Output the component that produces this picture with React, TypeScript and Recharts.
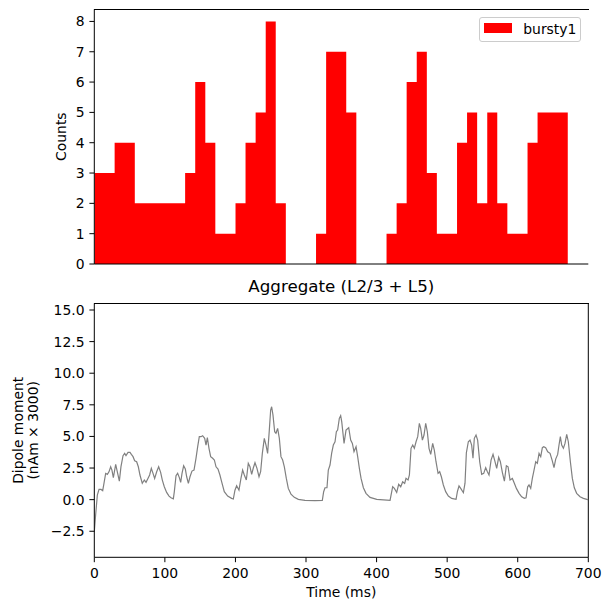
import {
  Area,
  CartesianGrid,
  ComposedChart,
  Legend,
  Line,
  LineChart,
  XAxis,
  YAxis,
} from 'recharts'

const FONT = '"DejaVu Sans", sans-serif'
const TICK_FONT = 13.9

// bursty1 spike histogram: bin edges (ms) and counts per bin
const binEdges = [
  0.3, 14.6, 28.8, 43.1, 57.4, 71.6, 85.9, 100.2, 114.5, 128.7, 143.0, 157.3,
  171.5, 185.8, 200.1, 214.3, 228.6, 242.9, 257.1, 271.4, 285.7, 299.9, 314.2,
  328.5, 342.8, 357.0, 371.3, 385.6, 399.8, 414.1, 428.4, 442.6, 456.9, 471.2,
  485.4, 499.7, 514.0, 528.2, 542.5, 556.8, 571.0, 585.3, 599.6, 613.9, 628.1,
  642.4, 656.7, 670.9,
]
const binCounts = [
  3, 3, 4, 4, 2, 2, 2, 2, 2, 3, 6, 4, 1, 1, 2, 4, 5, 8, 2, 0, 0, 0, 1, 7, 7, 5,
  0, 0, 0, 1, 2, 6, 7, 3, 1, 1, 4, 5, 2, 5, 2, 1, 1, 4, 5, 5, 5,
]

const timeTicks = [0, 100, 200, 300, 400, 500, 600, 700]
const countTicks = [0, 1, 2, 3, 4, 5, 6, 7, 8]
const dipoleTicks = [-2.5, 0, 2.5, 5, 7.5, 10, 12.5, 15]
const countDomain: [number, number] = [0, 8.4]
const dipoleDomain: [number, number] = [-4.56, 15.53]

// aggregate dipole trace (ms, nAm x 3000)
const dipoleTimes = [
  0, 1.9, 4.3, 6.7, 9.5, 11.9, 13.7, 16.1, 18.5, 20.8, 23.2, 25, 27, 30.3, 33.1,
  35.5, 37.8, 40.7, 43, 44.9, 47.8, 50.6, 52.5, 54.9, 57.2, 60, 62.4, 64.7, 68,
  70.9, 73.3, 76, 78.4, 80.8, 83.2, 85.5, 88.4, 91.2, 94, 96.4, 99.2, 102.5,
  105.9, 108.7, 112, 113.4, 115.8, 118.1, 120.5, 122.4, 124.3, 126.6, 129,
  130.9, 133.3, 135.6, 138.4, 141.3, 144.1, 146.5, 148.8, 151.2, 153.5, 156.4,
  158.3, 160.2, 162.5, 164.9, 167.7, 170.1, 172.5, 175.3, 178, 180.4, 184.2,
  189, 194.6, 197, 199.3, 201.7, 205, 207.8, 210.2, 212.6, 215.4, 218.2, 220.6,
  223, 225.3, 227.7, 230.5, 233.4, 235.7, 238.1, 240.9, 243.3, 245.6, 248,
  249.9, 251.3, 253.2, 255.6, 257.4, 259.8, 262.2, 264.5, 266.9, 269.3, 272.1,
  274.9, 278.7, 283.4, 289.1, 298.5, 312.7, 323.1, 325, 326.9, 329.7, 331.6,
  334, 336.3, 338.7, 341.1, 343, 344.8, 347.2, 349.1, 350.6, 353.9, 356.7,
  360.5, 363.3, 365.7, 368, 370.9, 373.2, 375.6, 378, 381.3, 385, 390.7, 400.2,
  419.1, 420.5, 422.8, 425.2, 428.5, 431.3, 434.2, 437, 439.8, 441.7, 444.6,
  446.5, 448.8, 451.2, 453.5, 455.9, 458.3, 460.6, 462.5, 464.9, 467.2, 469.6,
  471.9, 474.3, 476.7, 479.5, 481.8, 484.2, 487.1, 489.4, 491.8, 494.6, 497.9,
  501.7, 506.4, 512.6, 514.5, 516.8, 519.2, 523, 525.3, 527.2, 530, 532.4,
  534.7, 536.6, 538.5, 540.9, 543.2, 546.1, 548.9, 551.8, 554.6, 557, 559.3,
  562.2, 565, 567.8, 570.2, 573, 575.4, 578.2, 581.1, 583.9, 586.3, 589.1,
  592.4, 595.2, 598.1, 601.9, 605.6, 609.4, 611.8, 614.1, 616, 618.4, 620.7,
  623.1, 625.5, 627.8, 630.2, 632.6, 634.9, 636.8, 639.6, 642.5, 645.8, 649.1,
  651.4, 653.8, 656.6, 658.5, 660.4, 662.3, 664.7, 667, 669.4, 671.7, 674.6,
  677.4, 680.2, 683.5, 688.3, 693, 699.1, 700,
]
const dipoleValues = [
  -2.54, -1.2, 0.36, 0.81, 0.81, 0.71, 1.29, 2.08, 2.0, 2.2, 2.6, 2.34, 1.74,
  2.79, 2.08, 1.47, 2.61, 3.48, 3.66, 3.48, 3.74, 3.74, 3.58, 3.4, 3.08, 3.0,
  2.6, 1.95, 1.29, 1.55, 1.37, 1.68, 1.95, 2.47, 2.08, 1.68, 2.21, 2.6, 2.16,
  1.55, 1.02, 0.57, 0.28, 0.15, 0.07, 0.63, 1.89, 2.08, 1.74, 1.37, 2.08, 2.68,
  2.42, 1.81, 1.29, 1.81, 2.26, 2.34, 3.27, 4.19, 4.98, 4.98, 5.06, 4.85, 4.32,
  4.9, 4.06, 3.4, 3.27, 3.14, 2.6, 2.42, 1.95, 1.42, 0.63, 0.28, 0.1, 0.05,
  0.75, 1.1, 0.75, 1.68, 2.34, 1.95, 1.55, 2.87, 2.6, 2.0, 2.5, 2.92, 2.47,
  1.81, 2.21, 3.66, 4.85, 4.32, 3.66, 5.5, 7.09, 7.35, 6.69, 5.37, 5.25, 5.64,
  4.85, 3.4, 3.13, 2.6, 1.68, 0.89, 0.44, 0.18, 0.02, -0.06, -0.08, -0.06,
  0.63, 0.94, 0.94, 2.34, 2.74, 3.66, 4.32, 4.58, 5.37, 5.51, 6.43, 6.64, 6.17,
  4.45, 5.5, 5.69, 4.71, 4.45, 3.79, 4.19, 3.4, 2.47, 1.68, 0.94, 0.5, 0.18,
  0.02, -0.06, 0.36, 1.02, 0.89, 0.57, 1.21, 1.02, 1.42, 1.29, 1.68, 1.55, 1.95,
  4.06, 4.32, 4.06, 4.58, 4.98, 6.04, 5.64, 4.71, 5.11, 6.04, 5.37, 4.06, 3.58,
  4.45, 3.92, 3.0, 2.08, 2.21, 1.81, 1.16, 0.63, 0.28, 0.1, 0.02, 0.63, 1.08,
  0.89, 0.55, 1.3, 3.7, 4.58, 4.71, 4.32, 3.27, 4.85, 5.11, 4.71, 3.0, 2.0,
  2.08, 2.53, 2.21, 1.95, 3.13, 3.58, 3.0, 2.47, 3.35, 3.0, 2.16, 1.47, 2.68,
  2.6, 1.55, 1.68, 1.29, 0.89, 0.5, 0.23, 0.1, 0.15, 1.02, 1.16, 0.89, 1.68,
  2.34, 3.0, 2.87, 3.66, 3.4, 4.11, 4.19, 4.11, 3.79, 3.66, 3.05, 2.53, 3.21,
  3.58, 4.32, 4.98, 4.32, 4.06, 4.45, 5.16, 4.58, 3.0, 1.68, 0.94, 0.5, 0.23,
  0.1, 0.0, 0.0,
]

// stepAfter area: each edge holds its bin's count until the next edge
const histData = binEdges.map((t, i) => ({
  t,
  count: binCounts[Math.min(i, binCounts.length - 1)],
}))
const dipoleData = dipoleTimes.map((t, i) => ({ t, v: dipoleValues[i] }))

const tickStyle = { fill: '#000', fontSize: TICK_FONT, fontFamily: FONT }

function CountsLabel({ viewBox }: any) {
  const x = viewBox.x + 66.5
  const y = viewBox.y + viewBox.height / 2
  return (
    <text
      x={x}
      y={y}
      transform={`rotate(-90 ${x} ${y})`}
      textAnchor="middle"
      fontFamily={FONT}
      fontSize={TICK_FONT}
      fill="#000"
    >
      Counts
    </text>
  )
}

function DipoleLabel({ viewBox }: any) {
  const y = viewBox.y + viewBox.height / 2
  const x1 = viewBox.x + 23.5
  const x2 = viewBox.x + 38.5
  return (
    <g fontFamily={FONT} fontSize={TICK_FONT} fill="#000">
      <text x={x1} y={y} transform={`rotate(-90 ${x1} ${y})`} textAnchor="middle">
        Dipole moment
      </text>
      <text x={x2} y={y} transform={`rotate(-90 ${x2} ${y})`} textAnchor="middle">
        (nAm × 3000)
      </text>
    </g>
  )
}

function TimeLabel({ viewBox }: any) {
  return (
    <text
      x={viewBox.x + viewBox.width / 2}
      y={viewBox.y + 39.7}
      textAnchor="middle"
      fontFamily={FONT}
      fontSize={TICK_FONT}
      fill="#000"
    >
      Time (ms)
    </text>
  )
}

function HistLegend() {
  return (
    <div
      style={{
        boxSizing: 'border-box',
        width: 102,
        height: 25.6,
        border: '1px solid #cccccc',
        borderRadius: 3,
        background: '#fff',
        display: 'flex',
        alignItems: 'center',
        fontFamily: FONT,
        fontSize: TICK_FONT,
        color: '#000',
      }}
    >
      <span
        style={{
          display: 'inline-block',
          width: 27.7,
          height: 9.4,
          background: '#ff0000',
          marginLeft: 4,
          marginRight: 11.6,
          marginTop: -3,
        }}
      />
      <span>bursty1</span>
    </div>
  )
}

// top spine of a plot box, laid over the chart
function TopSpine({ top }: { top: number }) {
  return (
    <div
      style={{
        position: 'absolute',
        top,
        left: 94,
        width: 495,
        height: 1,
        background: '#000',
        zIndex: 10,
        pointerEvents: 'none',
      }}
    />
  )
}

export default function App() {
  return (
    <div style={{ position: 'absolute', top: 0, left: 0, width: 611, height: 611, background: '#fff' }}>
      <div style={{ position: 'absolute', top: 0, left: 0 }}>
        <ComposedChart
          width={611}
          height={290}
          data={histData}
          margin={{ top: 9.3, right: 22.7, bottom: 0, left: 0 }}
        >
          {/* right spine of the matplotlib box */}
          <CartesianGrid stroke="#000" horizontal={false} verticalValues={[700]} />
          <XAxis
            dataKey="t"
            type="number"
            domain={[0, 700]}
            ticks={timeTicks}
            tick={false}
            tickSize={4.9}
            height={26}
            stroke="#000"
            allowDataOverflow
          />
          <YAxis
            type="number"
            domain={countDomain}
            ticks={countTicks}
            tickSize={4.9}
            tickMargin={4.9}
            width={94.3}
            tick={tickStyle}
            stroke="#000"
            allowDataOverflow
            label={<CountsLabel />}
          />
          <Area
            type="stepAfter"
            dataKey="count"
            name="bursty1"
            fill="#ff0000"
            fillOpacity={1}
            stroke="none"
            isAnimationActive={false}
          />
          <Legend
            layout="vertical"
            align="center"
            verticalAlign="middle"
            wrapperStyle={{ top: 16.7, left: 479, width: 102, height: 25.6 }}
            content={() => <HistLegend />}
          />
        </ComposedChart>
      </div>
      <TopSpine top={9} />

      <div
        style={{
          position: 'absolute',
          top: 278.4,
          left: 94.3,
          width: 494,
          textAlign: 'center',
          fontFamily: FONT,
          fontSize: 16.7,
          lineHeight: 1,
          color: '#000',
          whiteSpace: 'nowrap',
        }}
      >
        Aggregate (L2/3 + L5)
      </div>

      <div style={{ position: 'absolute', top: 290, left: 0 }}>
        <LineChart
          width={611}
          height={321}
          data={dipoleData}
          margin={{ top: 13.3, right: 22.7, bottom: 0, left: 0 }}
        >
          <CartesianGrid stroke="#000" horizontal={false} verticalValues={[700]} />
          <XAxis
            dataKey="t"
            type="number"
            domain={[0, 700]}
            ticks={timeTicks}
            tickSize={4.9}
            tickMargin={6}
            height={53.7}
            tick={tickStyle}
            stroke="#000"
            allowDataOverflow
            label={<TimeLabel />}
          />
          <YAxis
            type="number"
            domain={dipoleDomain}
            ticks={dipoleTicks}
            tickFormatter={(v: number) => v.toFixed(1).replace('-', '\u2212')}
            tickSize={4.9}
            tickMargin={4.9}
            width={94.3}
            tick={tickStyle}
            stroke="#000"
            allowDataOverflow
            label={<DipoleLabel />}
          />
          <Line
            type="linear"
            dataKey="v"
            stroke="#808080"
            strokeWidth={1.2}
            dot={false}
            isAnimationActive={false}
          />
        </LineChart>
      </div>
      <TopSpine top={303} />
    </div>
  )
}
